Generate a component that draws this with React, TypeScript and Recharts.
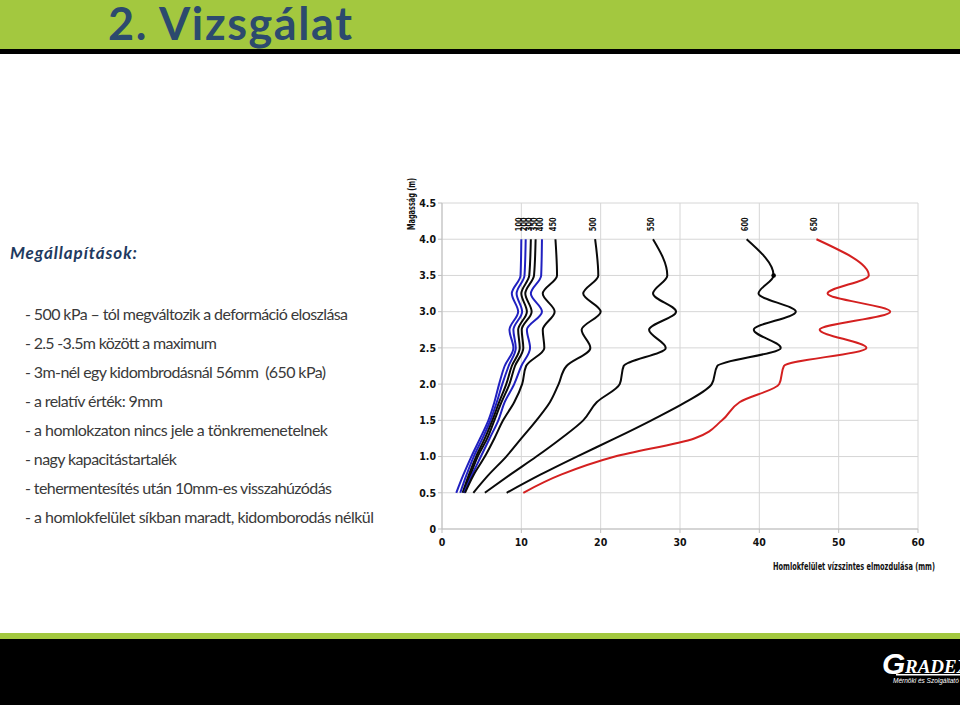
import { CartesianGrid, LabelList, Line, LineChart, XAxis, YAxis } from "recharts";

// heights (m) where the face displacement was read
const heights = [0.5, 0.75, 1.0, 1.25, 1.5, 1.75, 2.0, 2.25, 2.5, 2.75, 3.0, 3.25, 3.5, 4.0];

// horizontal displacement (mm) per load step (kPa)
const d100 = [1.8, 2.7, 3.7, 4.8, 5.85, 6.6, 7.2, 7.9, 9.0, 8.5, 9.6, 8.8, 9.9, 10.0];
const d200 = [2.3, 3.1, 4.0, 5.1, 6.1, 6.9, 7.6, 8.4, 9.3, 9.0, 10.1, 9.4, 10.4, 10.55];
const d300 = [2.6, 3.4, 4.3, 5.4, 6.35, 7.2, 8.1, 8.8, 9.8, 9.6, 10.7, 10.0, 11.0, 11.2];
const d350 = [2.7, 3.6, 4.5, 5.7, 6.6, 7.5, 8.5, 9.2, 10.25, 10.05, 11.3, 10.5, 11.6, 11.8];
const d400 = [2.8, 3.8, 4.9, 6.0, 7.1, 7.9, 9.1, 10.0, 11.1, 10.7, 12.6, 11.2, 12.5, 12.6];
const d450 = [2.9, 4.0, 5.4, 6.6, 7.7, 9.1, 10.1, 10.6, 12.9, 12.7, 14.2, 12.7, 14.5, 14.3];
const d500 = [3.95, 5.9, 8.1, 10.0, 11.9, 13.6, 14.7, 15.7, 18.7, 17.6, 20.0, 17.8, 19.7, 19.3];
const d550 = [5.4, 8.6, 11.9, 15.0, 17.8, 19.5, 22.4, 22.9, 28.2, 26.1, 29.5, 26.6, 28.4, 26.6];
const d600 = [8.15, 12.4, 17.0, 21.8, 26.4, 30.7, 34.0, 34.7, 42.7, 39.3, 44.6, 39.9, 41.8, 38.4];
const d650 = [10.25, 15.0, 21.8, 31.8, 35.3, 37.5, 42.5, 43.1, 53.5, 47.6, 56.5, 48.6, 53.8, 47.2];

const loads = ["100", "200", "300", "350", "400", "450", "500", "550", "600", "650"];
const values = [d100, d200, d300, d350, d400, d450, d500, d550, d600, d650];

const xTicks = [0, 10, 20, 30, 40, 50, 60];
const yTicks = [0, 0.5, 1.0, 1.5, 2.0, 2.5, 3.0, 3.5, 4.0, 4.5];

const notes = [
  "- 500 kPa \u2013 tól megváltozik a deformáció eloszlása",
  "- 2.5 -3.5m között a maximum",
  "- 3m-nél egy kidombrodásnál 56mm\u00a0 (650 kPa)",
  "- a relatív érték: 9mm",
  "- a homlokzaton nincs jele a tönkremenetelnek",
  "- nagy kapacitástartalék",
  "- tehermentesítés után 10mm-es visszahúzódás",
  "- a homlokfelület síkban maradt, kidomborodás nélkül",
];
const noteWidths = [323, 192, 301, 138, 303, 152, 307, 349];

const BLUE = "#2020c0";
const BLACK = "#0a0a0a";
const RED = "#d42020";
const lineColors: Record<string, string> = {
  "100": BLUE,
  "200": BLUE,
  "300": BLACK,
  "350": BLACK,
  "400": BLUE,
  "450": BLACK,
  "500": BLACK,
  "550": BLACK,
  "600": BLACK,
  "650": RED,
};

const AXIS_FONT = "'Liberation Sans Narrow', 'DejaVu Sans Condensed', sans-serif";
const BODY_FONT = "Lato, 'Open Sans', sans-serif";

const toRows = (vals: number[]) => heights.map((h, i) => ({ h, x: vals[i] }));

function TopLabel(props: any, name: string) {
  const { x, y, index } = props;
  if (index !== heights.length - 1 || x == null) return null;
  const cx = x - 2;
  const cy = y - 15;
  return (
    <text
      x={cx}
      y={cy}
      transform={`rotate(-90 ${cx} ${cy})`}
      textAnchor="middle"
      dominantBaseline="central"
      fontFamily={AXIS_FONT}
      fontWeight="bold"
      fontSize={9}
      textLength={14}
      lengthAdjust="spacingAndGlyphs"
      fill="#111"
    >
      {name}
    </text>
  );
}

// the 600 kPa curve carries a single marker at 3.5 m
function markerDot(props: any, name: string) {
  const { cx, cy, index } = props;
  if (name === "600" && heights[index] === 3.5) {
    return <circle key={`m${index}`} cx={cx} cy={cy} r={2.3} fill="#000" />;
  }
  return <g key={`m${index}`} />;
}

function YTitle({ viewBox }: any) {
  const cx = viewBox.x - 1;
  const cy = viewBox.y + 1;
  return (
    <text
      x={cx}
      y={cy}
      transform={`rotate(-90 ${cx} ${cy})`}
      textAnchor="middle"
      dominantBaseline="central"
      fontFamily={AXIS_FONT}
      fontWeight="bold"
      fontSize={10}
      textLength={52}
      lengthAdjust="spacingAndGlyphs"
      fill="#111"
    >
      Magasság (m)
    </text>
  );
}

function XTitle({ viewBox }: any) {
  return (
    <text
      x={viewBox.x + viewBox.width + 17}
      y={viewBox.y + 41}
      textAnchor="end"
      fontFamily={AXIS_FONT}
      fontWeight="bold"
      fontSize={10}
      textLength={162}
      lengthAdjust="spacingAndGlyphs"
      fill="#111"
    >
      Homlokfelület vízszintes elmozdulása (mm)
    </text>
  );
}

function DeformationChart() {
  const tick = { fontSize: 10.5, fontFamily: AXIS_FONT, fontWeight: "bold", fill: "#111" } as any;
  return (
    <LineChart
      width={560}
      height={420}
      layout="vertical"
      margin={{ top: 33, right: 32, bottom: 36, left: 22 }}
    >
      <CartesianGrid stroke="#d6d6d6" strokeWidth={1} />
      <XAxis
        type="number"
        domain={[0, 60]}
        ticks={xTicks}
        height={25}
        tickSize={4}
        tickMargin={6}
        stroke="#bfbfbf"
        tick={tick}
        label={<XTitle />}
      />
      <YAxis
        type="number"
        dataKey="h"
        domain={[0, 4.5]}
        ticks={yTicks}
        reversed
        width={30}
        tickSize={4}
        tickMargin={2}
        stroke="#bfbfbf"
        tick={tick}
        tickFormatter={(v: number) => (v === 0 ? "0" : v.toFixed(1))}
        label={<YTitle />}
      />
      {loads.map((name, i) => (
        <Line
          key={name}
          data={toRows(values[i])}
          dataKey="x"
          type="monotone"
          stroke={lineColors[name]}
          strokeWidth={2}
          dot={(p: any) => markerDot(p, name)}
          activeDot={false}
          isAnimationActive={false}
        >
          <LabelList dataKey="x" content={(p: any) => TopLabel(p, name)} />
        </Line>
      ))}
    </LineChart>
  );
}

export default function App() {
  return (
    <div style={{ position: "fixed", left: 0, top: 0, width: 960, height: 705, overflow: "hidden", background: "#fff" }}>
      <svg width={960} height={705} style={{ position: "absolute", left: 0, top: 0 }}>
        <rect x={0} y={0} width={960} height={49} fill="#a3c83f" />
        <rect x={0} y={49} width={960} height={5} fill="#000" />
        <text
          x={108}
          y={40}
          fontFamily={BODY_FONT}
          fontWeight="bold"
          fontSize={45}
          textLength={244}
          lengthAdjust="spacing"
          fill="#2c4a6e"
        >
          2. Vizsgálat
        </text>
        <text
          x={10}
          y={259}
          fontFamily={BODY_FONT}
          fontWeight="bold"
          fontStyle="italic"
          fontSize={17}
          textLength={127}
          lengthAdjust="spacing"
          fill="#1f3a60"
        >
          Megállapítások:
        </text>
        {notes.map((t, i) => (
          <text
            key={i}
            x={25}
            y={320 + i * 29}
            fontFamily={BODY_FONT}
            fontSize={16}
            textLength={noteWidths[i]}
            lengthAdjust="spacing"
            fill="#3a3a3a"
          >
            {t}
          </text>
        ))}
        <rect x={0} y={633} width={960} height={6} fill="#a3c83f" />
        <rect x={0} y={639} width={960} height={66} fill="#000" />
        <text x={882} y={674} fontFamily="'Liberation Sans', sans-serif" fontWeight="bold" fontStyle="italic" fontSize={30} fill="#fff">
          G
        </text>
        <text x={905} y={673} fontFamily="'Liberation Serif', serif" fontWeight="bold" fontStyle="italic" fontSize={19} fill="#fff">
          RADEX
        </text>
        <rect x={896} y={674} width={64} height={1.5} fill="#fff" />
        <text x={893} y={683} fontFamily="'Liberation Sans', sans-serif" fontStyle="italic" fontSize={6.5} fill="#fff">
          Mérnöki és Szolgáltató Kft.
        </text>
      </svg>
      <div style={{ position: "absolute", left: 390, top: 170 }}>
        <DeformationChart />
      </div>
    </div>
  );
}
